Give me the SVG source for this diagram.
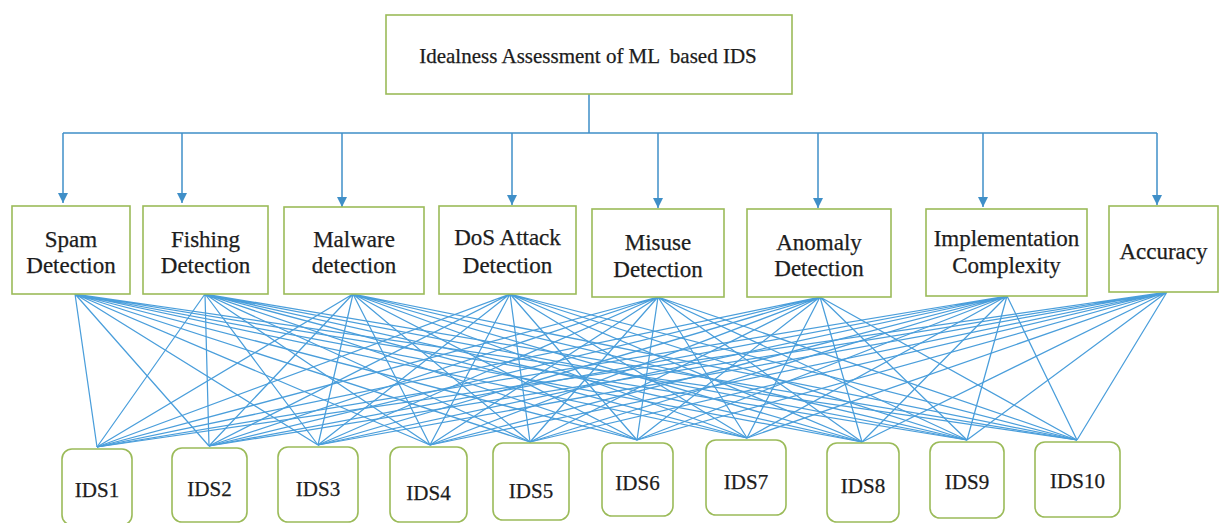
<svg xmlns="http://www.w3.org/2000/svg" width="1222" height="523" viewBox="0 0 1222 523">
<style>
.box{fill:#ffffff;stroke:#9bbb59;stroke-width:1.6}
.ids{fill:#ffffff;stroke:#9bbb59;stroke-width:1.6}
.t{font-family:'Liberation Serif','DejaVu Serif',serif;fill:#1c1c1c;stroke:#1c1c1c;stroke-width:0.25;text-anchor:middle}
.title{font-size:21px;white-space:pre}
.crit{font-size:23px}
.idst{font-size:21px}
.tree{fill:none;stroke:#3f8fc8;stroke-width:1.5}
.mesh{fill:none;stroke:#4a9edb;stroke-width:1.25}
</style>
<defs>
<marker id="arr" markerUnits="userSpaceOnUse" markerWidth="10" markerHeight="10" refX="10" refY="5" orient="auto">
<path d="M0,0 L10,5 L0,10 z" fill="#3f8fc8"/>
</marker>
</defs>
<rect width="1222" height="523" fill="#ffffff"/>

<g id="connectors">
<path class="tree" d="M589 94V133M63 133H1157"/>
<path class="tree" marker-end="url(#arr)" d="M63 133V203"/>
<path class="tree" marker-end="url(#arr)" d="M182 133V203"/>
<path class="tree" marker-end="url(#arr)" d="M342 133V207"/>
<path class="tree" marker-end="url(#arr)" d="M512 133V205"/>
<path class="tree" marker-end="url(#arr)" d="M658 133V208"/>
<path class="tree" marker-end="url(#arr)" d="M818 133V208"/>
<path class="tree" marker-end="url(#arr)" d="M983 133V207"/>
<path class="tree" marker-end="url(#arr)" d="M1157 133V205"/>

<path class="mesh" d="M75 294L97 447M75 294L209 446M75 294L318 445M75 294L430 445M75 294L530 442M75 294L637 440M75 294L747 438M75 294L862 442M75 294L967 440M75 294L1077 440"/>
<path class="mesh" d="M205 294L97 447M205 294L209 446M205 294L318 445M205 294L430 445M205 294L530 442M205 294L637 440M205 294L747 438M205 294L862 442M205 294L967 440M205 294L1077 440"/>
<path class="mesh" d="M353 294L97 447M353 294L209 446M353 294L318 445M353 294L430 445M353 294L530 442M353 294L637 440M353 294L747 438M353 294L862 442M353 294L967 440M353 294L1077 440"/>
<path class="mesh" d="M510 294L97 447M510 294L209 446M510 294L318 445M510 294L430 445M510 294L530 442M510 294L637 440M510 294L747 438M510 294L862 442M510 294L967 440M510 294L1077 440"/>
<path class="mesh" d="M658 297L97 447M658 297L209 446M658 297L318 445M658 297L430 445M658 297L530 442M658 297L637 440M658 297L747 438M658 297L862 442M658 297L967 440M658 297L1077 440"/>
<path class="mesh" d="M820 297L97 447M820 297L209 446M820 297L318 445M820 297L430 445M820 297L530 442M820 297L637 440M820 297L747 438M820 297L862 442M820 297L967 440M820 297L1077 440"/>
<path class="mesh" d="M1007 296L97 447M1007 296L209 446M1007 296L318 445M1007 296L430 445M1007 296L530 442M1007 296L637 440M1007 296L747 438M1007 296L862 442M1007 296L967 440M1007 296L1077 440"/>
<path class="mesh" d="M1167 292L97 447M1167 292L209 446M1167 292L318 445M1167 292L430 445M1167 292L530 442M1167 292L637 440M1167 292L747 438M1167 292L862 442M1167 292L967 440M1167 292L1077 440"/>
</g>

<g id="root">
<rect class="box" x="386" y="15" width="406" height="79"/>
<text class="t title" x="588" y="63" xml:space="preserve">Idealness Assessment of ML  based IDS</text>
</g>

<g id="spam">
<rect class="box" x="12" y="206" width="118" height="88"/>
<text class="t crit" x="71" y="247">Spam</text>
<text class="t crit" x="71" y="273">Detection</text>
</g>
<g id="fishing">
<rect class="box" x="143" y="206" width="125" height="88"/>
<text class="t crit" x="205.5" y="247">Fishing</text>
<text class="t crit" x="205.5" y="273">Detection</text>
</g>
<g id="malware">
<rect class="box" x="284" y="207" width="140" height="87"/>
<text class="t crit" x="354" y="247">Malware</text>
<text class="t crit" x="354" y="273">detection</text>
</g>
<g id="dos">
<rect class="box" x="439" y="206" width="137" height="88"/>
<text class="t crit" x="507.5" y="245">DoS Attack</text>
<text class="t crit" x="507.5" y="273">Detection</text>
</g>
<g id="misuse">
<rect class="box" x="592" y="209" width="132" height="88"/>
<text class="t crit" x="658" y="250">Misuse</text>
<text class="t crit" x="658" y="277">Detection</text>
</g>
<g id="anomaly">
<rect class="box" x="747" y="209" width="144" height="88"/>
<text class="t crit" x="819" y="250">Anomaly</text>
<text class="t crit" x="819" y="276">Detection</text>
</g>
<g id="implementation">
<rect class="box" x="926" y="209" width="161" height="87"/>
<text class="t crit" x="1006.5" y="246">Implementation</text>
<text class="t crit" x="1006.5" y="273">Complexity</text>
</g>
<g id="accuracy">
<rect class="box" x="1109" y="206" width="109" height="86"/>
<text class="t crit" x="1163.5" y="259">Accuracy</text>
</g>

<g id="ids1"><rect class="ids" x="62" y="449" width="70" height="76" rx="10"/><text class="t idst" x="97" y="497">IDS1</text></g>
<g id="ids2"><rect class="ids" x="172" y="448" width="75" height="74" rx="10"/><text class="t idst" x="209.5" y="496">IDS2</text></g>
<g id="ids3"><rect class="ids" x="278" y="447" width="80" height="75" rx="10"/><text class="t idst" x="318" y="496">IDS3</text></g>
<g id="ids4"><rect class="ids" x="390" y="447" width="77" height="75" rx="10"/><text class="t idst" x="428.5" y="500">IDS4</text></g>
<g id="ids5"><rect class="ids" x="493" y="443" width="76" height="77" rx="10"/><text class="t idst" x="531" y="498">IDS5</text></g>
<g id="ids6"><rect class="ids" x="602" y="443" width="71" height="73" rx="10"/><text class="t idst" x="637.5" y="490">IDS6</text></g>
<g id="ids7"><rect class="ids" x="706" y="440" width="80" height="75" rx="10"/><text class="t idst" x="746" y="489">IDS7</text></g>
<g id="ids8"><rect class="ids" x="827" y="443" width="72" height="79" rx="10"/><text class="t idst" x="863" y="493">IDS8</text></g>
<g id="ids9"><rect class="ids" x="930" y="442" width="74" height="76" rx="10"/><text class="t idst" x="967" y="489">IDS9</text></g>
<g id="ids10"><rect class="ids" x="1035" y="442" width="85" height="75" rx="10"/><text class="t idst" x="1077.5" y="488">IDS10</text></g>
</svg>
